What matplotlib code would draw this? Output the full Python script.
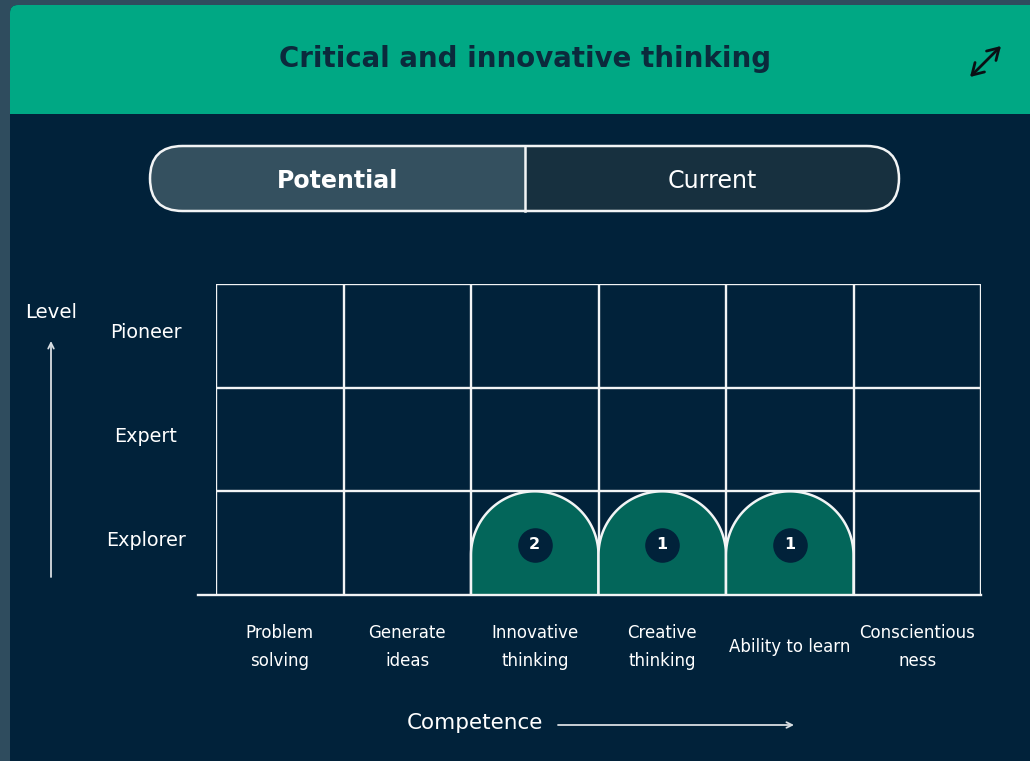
import matplotlib
matplotlib.use("Agg")
import matplotlib.pyplot as plt
from matplotlib.patches import FancyBboxPatch, Polygon, Rectangle
import numpy as np

# ---- data ----
title = "Critical and innovative thinking"
tabs = ["Potential", "Current"]
competences = ["Problem\nsolving", "Generate\nideas", "Innovative\nthinking",
               "Creative\nthinking", "Ability to learn", "Conscientious\nness"]
levels = ["Explorer", "Expert", "Pioneer"]
level_reached = [0, 0, 1, 1, 1, 0]       # 0 = none, 1 = Explorer, 2 = Expert, 3 = Pioneer
counts = [0, 0, 2, 1, 1, 0]
x_title = "Competence"
y_title = "Level"

# ---- style ----
OUTER = "#2f4c5e"
HEADER = "#00a884"
BODY = "#01223a"
FILL = "#03665a"
WHITE = "#f2f4f5"
FONT = ["DejaVu Sans"]
plt.rcParams["font.family"] = FONT

W, H = 1030, 761
fig = plt.figure(figsize=(W / 100, H / 100), dpi=100, facecolor=OUTER)
renderer = fig.canvas.get_renderer()


def fit_size(s, width_px, **kw):
    t = fig.text(0, 0, s, fontsize=10, **kw)
    w = t.get_window_extent(renderer).width
    t.remove()
    return 10 * width_px / w


bg = fig.add_axes([0, 0, 1, 1])
bg.set_xlim(0, W)
bg.set_ylim(H, 0)
bg.axis("off")

# card
bg.add_patch(FancyBboxPatch((10, 5), 1040, 800, boxstyle="round,pad=0,rounding_size=8",
                            fc=BODY, ec="none"))
bg.add_patch(FancyBboxPatch((10, 5), 1040, 109, boxstyle="round,pad=0,rounding_size=8",
                            fc=HEADER, ec="none"))
bg.add_patch(Rectangle((10, 60), 1040, 54, fc=HEADER, ec="none"))
fs_title = fit_size(title, 490, fontweight="semibold")
bg.text(525, 59, title, ha="center", va="center", fontsize=fs_title, fontweight="semibold",
        color="#0b2a3c")
# expand icon
bg.annotate("", xy=(1001, 46), xytext=(970, 77),
            arrowprops=dict(arrowstyle="<->,head_length=0.5,head_width=0.3", color="#0a0f14",
                            lw=2.0, mutation_scale=16, shrinkA=0, shrinkB=0))

# toggle
x0, x1, xm, y0, y1 = 150, 899, 525, 146, 211
r = (y1 - y0) / 2
bg.add_patch(FancyBboxPatch((x0, y0), x1 - x0, y1 - y0,
                            boxstyle=f"round,pad=0,rounding_size={r}", fc="#17303f", ec="none"))
clipL = Rectangle((x0, y0), xm - x0, y1 - y0, transform=bg.transData)
lp = FancyBboxPatch((x0, y0), x1 - x0, y1 - y0,
                    boxstyle=f"round,pad=0,rounding_size={r}", fc="#34505f", ec="none")
bg.add_patch(lp)
lp.set_clip_path(clipL)
bg.add_patch(FancyBboxPatch((x0, y0), x1 - x0, y1 - y0,
                            boxstyle=f"round,pad=0,rounding_size={r}", fc="none",
                            ec=WHITE, lw=1.8))
bg.plot([xm, xm], [y0, y1], color=WHITE, lw=1.8)
fs_tab = fit_size(tabs[0], 122, fontweight="bold")
bg.text((x0 + xm) / 2, 181, tabs[0], ha="center", va="center", fontsize=fs_tab,
        fontweight="bold", color="white")
bg.text((xm + x1) / 2, 181, tabs[1], ha="center", va="center", fontsize=fs_tab,
        color="white")

# ---- grid axes ----
gx0, gx1, gy0, gy1 = 216, 981, 284, 595
ax = fig.add_axes([gx0 / W, (H - gy1) / H, (gx1 - gx0) / W, (gy1 - gy0) / H])
ax.set_xlim(0, len(competences))
ax.set_ylim(0, len(levels))
ax.axis("off")
ax.patch.set_alpha(0)

col_px = (gx1 - gx0) / len(competences)
row_px = (gy1 - gy0) / len(levels)
ry = (col_px / 2) / row_px  # radius in row units

for i, (lv, c) in enumerate(zip(level_reached, counts)):
    if lv <= 0:
        continue
    yc = lv - ry
    t = np.linspace(0, np.pi, 120)
    xs = np.concatenate([[i], i + 0.5 - 0.5 * np.cos(t), [i + 1]])
    ys = np.concatenate([[0], yc + ry * np.sin(t), [0]])
    ax.add_patch(Polygon(np.column_stack([xs, ys]), closed=False, fc=FILL, ec=WHITE,
                         lw=1.8, zorder=3))
    ax.scatter([i + 0.5], [yc + 0.1], s=620, color=BODY, zorder=4, linewidths=0)
    ax.text(i + 0.5, yc + 0.1, str(c), ha="center", va="center", color="white",
            fontsize=11.5, fontweight="semibold", zorder=5)

for k in range(len(competences) + 1):
    ax.plot([k, k], [0, len(levels)], color=WHITE, lw=1.7, zorder=2,
            solid_capstyle="projecting")
for k in range(1, len(levels) + 1):
    ax.plot([0, len(competences)], [k, k], color=WHITE, lw=1.7, zorder=2,
            solid_capstyle="projecting")
ax.plot([-18 / col_px, len(competences)], [0, 0], color=WHITE, lw=1.7, zorder=6,
        clip_on=False)

fs_lvl = fit_size("Explorer", 80)
for k, lab in enumerate(levels):
    ax.text((146 - gx0) / col_px, k + 0.5 + 3 / row_px, lab, ha="center", va="center",
            color="white", fontsize=fs_lvl, clip_on=False)
fs_comp = fit_size("Ability to learn", 122)
for i, lab in enumerate(competences):
    ax.text(i + 0.5, -(647 - gy1) / row_px, lab, ha="center", va="center", color="white",
            fontsize=fs_comp, linespacing=1.72, clip_on=False)

# axis titles and arrows
bg.text(51, 312, y_title, ha="center", va="center", color="white",
        fontsize=fit_size(y_title, 52))
bg.annotate("", xy=(51, 341), xytext=(51, 577),
            arrowprops=dict(arrowstyle="->", color="#d8dee2", lw=1.3, mutation_scale=10,
                            shrinkA=0, shrinkB=0))
bg.text(475, 723, x_title, ha="center", va="center", color="white",
        fontsize=fit_size(x_title, 136))
bg.annotate("", xy=(794, 725), xytext=(558, 725),
            arrowprops=dict(arrowstyle="->", color="#d8dee2", lw=1.3, mutation_scale=10,
                            shrinkA=0, shrinkB=0))

fig.savefig("out.png", dpi=100, facecolor=OUTER)
